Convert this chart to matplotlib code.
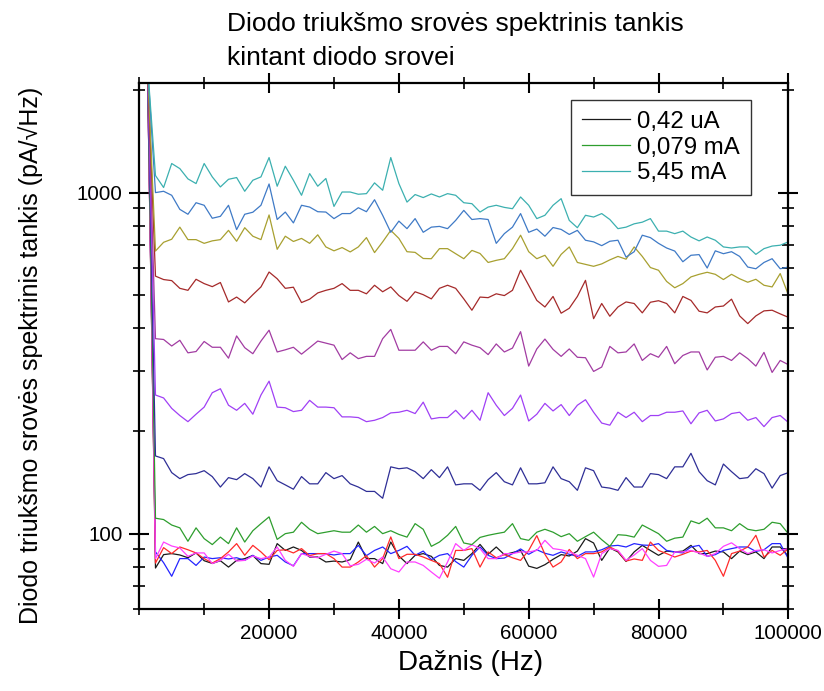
import numpy as np
import matplotlib
matplotlib.use('Agg')
import matplotlib.pyplot as plt
from matplotlib.ticker import MultipleLocator, NullFormatter

plt.rcParams['font.family'] = ['Liberation Sans', 'DejaVu Sans']

# spectrum bins (Hz); first bin holds the DC leak spike (off scale)
freq_hz = np.arange(1, 81) * 1250

# noise current spectral density, pA/sqrt(Hz), one list per diode current
s_545mA = [2400, 1122, 1035, 1217, 1176, 1097, 1063, 1217, 1112, 1039,
           1094, 1107, 1009, 1087, 1112, 1267, 1044, 1195, 1087, 982,
           1137, 1044, 1100, 911, 1004, 1004, 989, 993, 1068, 1016,
           1267, 1063, 938, 987, 967, 991, 971, 993, 982, 934,
           928, 877, 907, 918, 905, 897, 971, 918, 839, 858,
           918, 960, 829, 789, 858, 848, 868, 834, 784, 792,
           810, 819, 839, 771, 771, 758, 771, 741, 722, 741,
           725, 693, 688, 693, 693, 659, 685, 697, 701, 717]
s_blue = [2400, 1000, 1009, 982, 893, 864, 934, 918, 841, 852,
          918, 779, 864, 876, 918, 1060, 834, 877, 815, 918,
          907, 879, 877, 839, 868, 868, 903, 879, 953, 858,
          765, 825, 784, 839, 765, 792, 796, 784, 829, 887,
          834, 839, 834, 710, 758, 792, 868, 765, 782, 745,
          790, 780, 754, 775, 725, 717, 699, 720, 725, 647,
          671, 750, 738, 710, 688, 674, 627, 655, 658, 601,
          675, 662, 671, 650, 605, 598, 624, 640, 598, 605]
s_olive = [2400, 674, 715, 730, 792, 728, 728, 710, 722, 728,
           775, 720, 789, 745, 728, 860, 682, 745, 719, 734,
           710, 752, 693, 675, 690, 670, 693, 738, 667, 717,
           775, 734, 671, 668, 641, 640, 685, 685, 662, 640,
           677, 663, 624, 633, 640, 685, 750, 671, 640, 655,
           608, 659, 693, 624, 616, 608, 618, 635, 650, 638,
           693, 650, 603, 592, 549, 526, 541, 566, 576, 584,
           576, 556, 576, 559, 546, 557, 535, 529, 579, 502]
s_darkred = [2400, 569, 556, 552, 524, 517, 557, 541, 530, 545,
             478, 494, 475, 502, 529, 585, 559, 524, 528, 476,
             487, 508, 517, 524, 541, 517, 517, 505, 535, 512,
             529, 499, 480, 512, 502, 488, 524, 535, 524, 488,
             452, 494, 492, 505, 499, 517, 592, 535, 483, 462,
             496, 443, 458, 496, 553, 427, 473, 434, 462, 478,
             473, 444, 477, 482, 473, 444, 496, 483, 449, 444,
             462, 465, 487, 435, 413, 435, 450, 452, 441, 431]
s_purple = [2400, 373, 371, 355, 369, 339, 342, 366, 352, 352,
            327, 380, 351, 337, 367, 395, 341, 346, 352, 336,
            351, 367, 362, 357, 324, 339, 326, 331, 331, 373,
            397, 345, 345, 345, 365, 345, 354, 354, 337, 365,
            357, 351, 335, 360, 341, 350, 391, 310, 348, 372,
            347, 331, 348, 329, 328, 299, 308, 354, 339, 341,
            360, 322, 337, 329, 354, 315, 333, 341, 341, 302,
            329, 331, 322, 339, 326, 310, 340, 297, 322, 313]
s_violet = [2400, 255, 250, 233, 222, 213, 224, 235, 259, 266,
            238, 230, 241, 224, 255, 280, 235, 234, 228, 230,
            246, 235, 235, 234, 220, 220, 219, 213, 215, 219,
            226, 227, 230, 225, 243, 217, 219, 219, 230, 217,
            230, 215, 259, 238, 222, 233, 255, 214, 224, 241,
            229, 239, 222, 238, 247, 227, 211, 208, 227, 219,
            227, 213, 222, 222, 227, 227, 229, 210, 226, 230,
            214, 217, 225, 227, 215, 219, 206, 219, 222, 212]
s_navy = [2400, 169, 166, 151, 145, 149, 150, 153, 147, 137,
          146, 144, 150, 145, 137, 157, 143, 139, 135, 147,
          140, 140, 151, 145, 148, 140, 137, 133, 133, 127,
          157, 155, 156, 152, 145, 154, 146, 157, 139, 140,
          140, 134, 144, 151, 142, 139, 156, 140, 140, 141,
          157, 145, 142, 134, 156, 153, 137, 136, 134, 146,
          137, 137, 150, 149, 145, 157, 157, 172, 152, 143,
          139, 160, 152, 145, 146, 155, 150, 136, 148, 151]
s_0079mA = [2400, 111, 110, 106, 104, 95, 104, 96.7, 92.9, 97.7,
            93.5, 104, 94.5, 102, 107, 112, 96.2, 100, 101, 108,
            103, 100, 101, 102, 101, 101, 106, 101, 105, 100,
            102, 99.5, 97.7, 107, 103, 91.8, 94.5, 98.9, 105, 93.9,
            92.9, 97.5, 98.9, 100, 101, 107, 96.7, 95.6, 101, 103,
            101, 98, 100, 95, 98, 101, 96, 91.8, 99.3, 98.9,
            97.7, 106, 103, 100, 95, 97, 97.7, 109, 107, 111,
            104, 104, 102, 107, 103, 102, 103, 108, 107, 100]
s_042uA = [2400, 79.3, 86.8, 87.4, 86.6, 85.0, 87.8, 83.3, 81.8, 83.3,
           79.8, 83.5, 84.5, 86.3, 81.7, 81.3, 93.5, 89.3, 91.4, 89.3,
           85.4, 85.4, 82.6, 83.1, 82.6, 83.9, 94.5, 84.5, 84.5, 81.7,
           94.5, 86.0, 81.7, 86.4, 87.4, 85.8, 80.7, 79.8, 84.5, 83.5,
           87.4, 93.0, 87.0, 91.4, 86.8, 88.0, 89.3, 80.3, 79.1, 81.1,
           84.1, 86.8, 86.0, 88.9, 96.7, 93.9, 83.5, 90.8, 88.4, 82.9,
           88.4, 92.4, 89.3, 86.4, 88.9, 88.4, 88.9, 92.4, 87.4, 87.4,
           88.9, 88.4, 84.5, 88.9, 86.8, 88.4, 84.5, 91.4, 91.4, 85.8]
s_red = [2400, 82.0, 91.0, 87.4, 91.4, 89.7, 87.8, 84.5, 82.0, 84.5,
         88.4, 93.5, 86.4, 92.4, 88.4, 83.9, 89.3, 89.7, 87.8, 90.4,
         86.2, 87.4, 87.4, 84.5, 79.8, 79.8, 82.6, 86.2, 79.8, 84.5,
         97.8, 84.5, 87.0, 87.0, 85.4, 83.5, 81.7, 74.5, 89.3, 89.3,
         90.4, 79.8, 88.4, 85.0, 86.8, 85.0, 83.5, 89.3, 98.7, 87.0,
         79.8, 82.6, 89.9, 84.5, 87.4, 87.4, 88.4, 91.4, 88.9, 83.1,
         84.3, 83.5, 94.5, 89.3, 87.4, 85.4, 87.0, 88.9, 88.4, 89.3,
         83.5, 75.0, 87.4, 88.9, 91.4, 98.9, 85.4, 89.3, 86.4, 90.4]
s_blue2 = [2400, 88.4, 82.2, 75.0, 84.5, 84.5, 80.7, 85.4, 84.5, 85.0,
           84.3, 85.0, 83.5, 86.4, 83.5, 85.4, 86.4, 82.6, 80.5, 87.4,
           87.4, 87.4, 87.4, 86.6, 87.4, 87.4, 92.4, 86.2, 89.3, 91.4,
           87.4, 89.3, 91.8, 86.4, 88.9, 83.9, 86.4, 87.4, 82.8, 79.8,
           86.4, 91.4, 86.4, 84.5, 84.8, 87.4, 90.2, 87.0, 89.7, 87.6,
           86.4, 88.4, 87.0, 85.8, 88.4, 88.4, 89.7, 92.0, 92.4, 91.4,
           93.5, 92.6, 92.4, 93.5, 89.3, 88.4, 87.8, 91.4, 92.4, 85.8,
           86.8, 89.3, 90.4, 91.4, 91.4, 88.7, 89.7, 93.5, 93.5, 84.5]
s_magenta = [2400, 84.5, 94.5, 92.0, 90.8, 85.8, 87.8, 87.8, 81.7, 83.5,
             87.0, 83.1, 83.5, 86.0, 84.5, 85.4, 91.4, 83.5, 80.2, 87.4,
             85.8, 85.0, 87.0, 88.9, 87.4, 80.5, 81.3, 84.1, 82.0, 85.4,
             78.9, 77.2, 82.6, 82.6, 80.7, 77.2, 74.0, 82.6, 93.5, 89.3,
             92.8, 90.4, 84.5, 84.5, 87.4, 87.4, 88.4, 88.4, 89.3, 95.6,
             90.4, 89.7, 88.4, 86.4, 84.5, 74.6, 87.4, 90.4, 89.3, 83.5,
             86.6, 90.4, 83.5, 80.2, 80.7, 88.4, 88.4, 89.3, 87.8, 85.8,
             87.4, 91.8, 94.0, 90.4, 87.4, 89.3, 89.7, 87.8, 89.3, 90.4]

series = [
    (s_042uA, '#1a1a1a', '0,42 uA'),
    (s_blue2, '#2424ff', None),
    (s_red, '#ff2a2a', None),
    (s_magenta, '#ff40ff', None),
    (s_0079mA, '#2e9e2e', '0,079 mA'),
    (s_navy, '#2f2f96', None),
    (s_violet, '#a040f5', None),
    (s_purple, '#a23ca2', None),
    (s_darkred, '#a52a2a', None),
    (s_olive, '#a8a030', None),
    (s_blue, '#3f7ac6', None),
    (s_545mA, '#3cb0b0', '5,45 mA'),
]

xtick_values = [20000, 40000, 60000, 80000, 100000]
ytick_values = [100, 1000]
legend_labels = ['0,42 uA', '0,079 mA', '5,45 mA']

fig = plt.figure(figsize=(8.24, 6.91), dpi=100)
ax = fig.add_axes([0.169, 0.1182, 0.7877, 0.7621])

handles = {}
for vals, col, lab in series:
    ln, = ax.plot(freq_hz, vals, color=col, lw=0.9)
    if lab:
        handles[lab] = ln

ax.set_yscale('log')
ax.set_xlim(0, 100000)
ax.set_ylim(60, 2100)

ax.set_xticks(xtick_values, labels=[str(v) for v in xtick_values])
ax.xaxis.set_minor_locator(MultipleLocator(10000))
ax.set_yticks(ytick_values, labels=[str(v) for v in ytick_values])
ax.yaxis.set_minor_formatter(NullFormatter())

ax.tick_params(which='both', direction='inout', top=True, right=True,
               labelsize=14.8, color='black')
ax.tick_params(which='major', length=14, width=1.5)
ax.tick_params(which='minor', length=8, width=1.2)
ax.tick_params(axis='x', which='major', pad=3.5)
ax.tick_params(axis='y', which='major', pad=5)
for sp in ax.spines.values():
    sp.set_linewidth(1.6)

ax.set_xlabel('Dažnis (Hz)', fontsize=20)
ax.xaxis.label.set_va('center')
ax.xaxis.set_label_coords(0.51, -0.102)
ax.set_ylabel('Diodo triukšmo srovės spektrinis tankis (pA/√Hz)', fontsize=18)
ax.yaxis.label.set_va('center')
ax.yaxis.set_label_coords(-0.168, 0.483)

fig.text(227 / 824, 1 - 12 / 691,
         'Diodo triukšmo srovės spektrinis tankis\nkintant diodo srovei',
         ha='left', va='top', fontsize=19, linespacing=1.55)

leg = ax.legend([handles[k] for k in legend_labels], legend_labels,
                loc='upper right', bbox_to_anchor=(0.9425, 0.967),
                fontsize=17.3, fancybox=False, framealpha=1,
                handlelength=2.0, handletextpad=0.32, labelspacing=0.15,
                borderpad=0.45, borderaxespad=0)
leg.get_frame().set_edgecolor('#333333')
leg.get_frame().set_linewidth(1.0)

fig.savefig('out.png', dpi=100)
